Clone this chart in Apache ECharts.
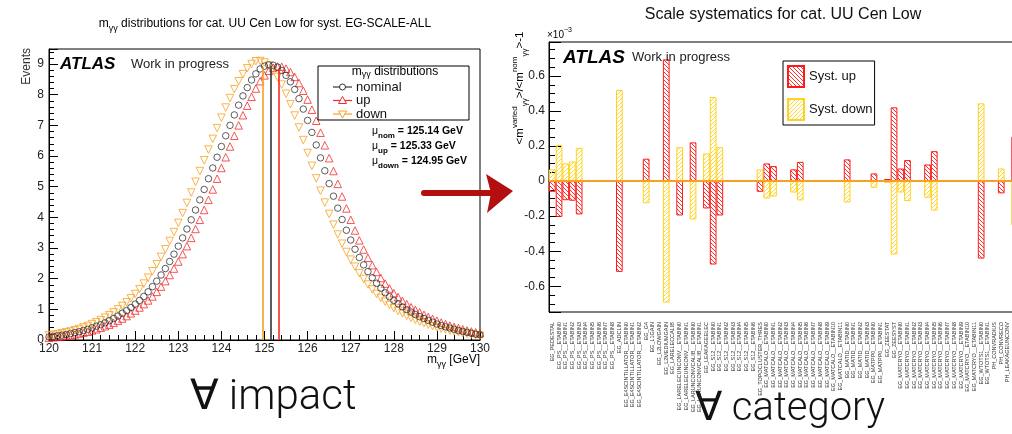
<!DOCTYPE html>
<html>
<head>
<meta charset="utf-8">
<script src="https://cdn.jsdelivr.net/npm/echarts@6/dist/echarts.min.js"></script>
<style>
  html, body { margin: 0; padding: 0; background: #fff; overflow: hidden; }
  #chart { width: 1024px; height: 434px; }
</style>
</head>
<body>
<div id="chart"></div>
<script>
// ---- left plot: m_yy spectra ----
const massBins = [
  120.0,120.1,120.2,120.3,120.4,120.5,120.6,120.7,120.8,120.9,
  121.0,121.1,121.2,121.3,121.4,121.5,121.6,121.7,121.8,121.9,
  122.0,122.1,122.2,122.3,122.4,122.5,122.6,122.7,122.8,122.9,
  123.0,123.1,123.2,123.3,123.4,123.5,123.6,123.7,123.8,123.9,
  124.0,124.1,124.2,124.3,124.4,124.5,124.6,124.7,124.8,124.9,
  125.0,125.1,125.2,125.3,125.4,125.5,125.6,125.7,125.8,125.9,
  126.0,126.1,126.2,126.3,126.4,126.5,126.6,126.7,126.8,126.9,
  127.0,127.1,127.2,127.3,127.4,127.5,127.6,127.7,127.8,127.9,
  128.0,128.1,128.2,128.3,128.4,128.5,128.6,128.7,128.8,128.9,
  129.0,129.1,129.2,129.3,129.4,129.5,129.6,129.7,129.8,129.9,
  130.0
];
const nominalEvents = [
  0.10,0.12,0.14,0.16,0.18,0.21,0.24,0.27,0.31,0.35,
  0.40,0.45,0.50,0.56,0.63,0.70,0.78,0.87,0.96,1.06,
  1.17,1.29,1.42,1.57,1.74,1.92,2.12,2.33,2.56,2.80,
  3.06,3.33,3.62,3.92,4.24,4.57,4.91,5.26,5.61,5.96,
  6.31,6.66,7.00,7.34,7.66,7.96,8.23,8.48,8.68,8.84,
  8.93,8.97,8.96,8.90,8.79,8.63,8.42,8.17,7.87,7.53,
  7.16,6.77,6.36,5.94,5.52,5.10,4.69,4.30,3.93,3.58,
  3.26,2.96,2.69,2.45,2.23,2.03,1.85,1.69,1.54,1.41,
  1.29,1.18,1.08,0.99,0.91,0.83,0.76,0.70,0.64,0.58,
  0.52,0.47,0.43,0.39,0.35,0.31,0.28,0.25,0.22,0.19,
  0.17
];
const upEvents = [
  0.07,0.09,0.10,0.12,0.14,0.16,0.18,0.21,0.24,0.27,
  0.31,0.35,0.40,0.45,0.50,0.56,0.63,0.70,0.78,0.87,
  0.96,1.06,1.17,1.29,1.42,1.57,1.74,1.92,2.12,2.33,
  2.56,2.80,3.06,3.33,3.62,3.92,4.24,4.57,4.91,5.26,
  5.61,5.96,6.31,6.66,7.00,7.33,7.64,7.93,8.20,8.44,
  8.63,8.78,8.88,8.92,8.91,8.85,8.74,8.58,8.38,8.13,
  7.84,7.51,7.15,6.76,6.35,5.93,5.51,5.09,4.68,4.29,
  3.92,3.57,3.25,2.95,2.68,2.44,2.22,2.02,1.84,1.68,
  1.53,1.40,1.28,1.17,1.07,0.98,0.90,0.82,0.75,0.69,
  0.63,0.57,0.52,0.47,0.43,0.39,0.35,0.31,0.28,0.25,
  0.22
];
const downEvents = [
  0.15,0.17,0.19,0.22,0.25,0.28,0.32,0.36,0.41,0.46,
  0.52,0.58,0.65,0.73,0.81,0.90,1.00,1.11,1.23,1.36,
  1.50,1.66,1.84,2.03,2.24,2.47,2.71,2.96,3.23,3.52,
  3.82,4.14,4.47,4.81,5.16,5.51,5.86,6.21,6.56,6.91,
  7.25,7.58,7.89,8.18,8.44,8.67,8.86,9.00,9.09,9.10,
  9.05,8.95,8.79,8.58,8.33,8.03,7.69,7.32,6.93,6.52,
  6.10,5.68,5.27,4.87,4.48,4.11,3.76,3.44,3.14,2.87,
  2.62,2.39,2.18,1.99,1.81,1.65,1.50,1.37,1.25,1.14,
  1.04,0.95,0.87,0.79,0.72,0.66,0.60,0.55,0.50,0.45,
  0.41,0.37,0.34,0.31,0.28,0.25,0.22,0.20,0.18,0.16,
  0.14
];
const variationNames = ['nominal', 'up', 'down'];
const meanTags = ['nom', 'up', 'down'];
const meanValues = [125.14, 125.33, 124.95];
const meanLineTops = [8.86, 8.84, 8.88];

// ---- right plot: relative shift of <m_yy> per systematic (x 1e-3) ----
const systNames = [
  'EG_PEDESTAL',
  'EG_PS__ETABIN0','EG_PS__ETABIN1','EG_PS__ETABIN2','EG_PS__ETABIN3','EG_PS__ETABIN4',
  'EG_PS__ETABIN5','EG_PS__ETABIN6','EG_PS__ETABIN7','EG_PS__ETABIN8',
  'EG_ADCLIN',
  'EG_E4SCINTILLATOR__ETABIN0','EG_E4SCINTILLATOR__ETABIN1','EG_E4SCINTILLATOR__ETABIN2',
  'EG_G4','EG_L1GAIN','EG_L2LOWGAIN','EG_L2MEDIUMGAIN','EG_LARELECCALIB',
  'EG_LARELECUNCONV__ETABIN0','EG_LARELECUNCONV__ETABIN1',
  'EG_LARUNCONVCALIB__ETABIN0','EG_LARUNCONVCALIB__ETABIN1',
  'EG_LEAKAGEELEC',
  'EG_S12__ETABIN0','EG_S12__ETABIN1','EG_S12__ETABIN2','EG_S12__ETABIN3',
  'EG_S12__ETABIN4','EG_S12__ETABIN5','EG_S12__ETABIN6',
  'EG_TOPOCLUSTER_THRES',
  'EG_MATCALO__ETABIN0','EG_MATCALO__ETABIN1','EG_MATCALO__ETABIN2','EG_MATCALO__ETABIN3',
  'EG_MATCALO__ETABIN4','EG_MATCALO__ETABIN5','EG_MATCALO__ETABIN6','EG_MATCALO__ETABIN7',
  'EG_MATCALO__ETABIN8','EG_MATCALO__ETABIN9','EG_MATCALO__ETABIN10','EG_MATCALO__ETABIN11',
  'EG_MATID__ETABIN0','EG_MATID__ETABIN1','EG_MATID__ETABIN2','EG_MATID__ETABIN3',
  'EG_MATPP0__ETABIN0','EG_MATPP0__ETABIN1',
  'EG_ZEESTAT','EG_ZEESYST',
  'EG_MATCRYO__ETABIN0','EG_MATCRYO__ETABIN1','EG_MATCRYO__ETABIN2','EG_MATCRYO__ETABIN3',
  'EG_MATCRYO__ETABIN4','EG_MATCRYO__ETABIN5','EG_MATCRYO__ETABIN6','EG_MATCRYO__ETABIN7',
  'EG_MATCRYO__ETABIN8','EG_MATCRYO__ETABIN9','EG_MATCRYO__ETABIN10','EG_MATCRYO__ETABIN11',
  'EG_WTOTS1__ETABIN0','EG_WTOTS1__ETABIN1',
  'PH_CONVRADIUS','PH_CONVRECO','PH_LEAKAGEUNCONV','PH_LEAKAGECONV'
];
const systUp = [
  -0.061,-0.204,-0.109,-0.112,-0.190, 0, 0, 0, 0, 0,
  -0.518, 0, 0, 0, 0.128, 0, 0, 0.695, 0, -0.196,
  0, 0.221, 0, -0.156, -0.476, -0.196, 0, 0, 0, 0,
  0, -0.061, 0.101, 0.086, 0, 0, 0.067, 0.110, 0, 0,
  0, 0, 0, 0, 0.124, 0, 0, 0, 0.044, 0,
  0.012, 0.421, 0.072, 0.120, 0, 0, 0.095, 0.171, 0, 0,
  0, 0, 0, 0, -0.442, 0, 0, -0.070, 0, 0.253
];
const systDown = [
  0.067, 0.207, 0.101, 0.112, 0.190, 0, 0, 0, 0, 0,
  0.520, 0, 0, 0, -0.126, 0, 0, -0.693, 0, 0.194,
  0, -0.219, 0, 0.158, 0.480, 0.194, 0, 0, 0, 0,
  0, 0.067, -0.099, -0.088, 0, 0, -0.065, -0.110, 0, 0,
  0, 0, 0, 0, -0.122, 0, 0, 0, -0.038, 0,
  -0.010, -0.419, -0.065, -0.114, 0, 0, -0.095, -0.168, 0, 0,
  0, 0, 0, 0, 0.444, 0, 0, 0.072, 0, -0.251
];

const FONT = '"Liberation Sans", Arial, Helvetica, sans-serif';
const RED = '#f52a2a';
const ORANGE = '#f8a020';
const BLACK = '#333';
const HIST_RED = '#ff1a1a';
const HIST_YELLOW = '#ffd21f';

// hatch fill like ROOT fill styles 3004/3005
function hatch(color, forward) {
  const s = 4;
  const c = document.createElement('canvas');
  c.width = s; c.height = s;
  const g = c.getContext('2d');
  g.strokeStyle = color;
  g.lineWidth = 0.9;
  g.beginPath();
  if (forward) { g.moveTo(-1, s + 1); g.lineTo(s + 1, -1); }
  else { g.moveTo(-1, -1); g.lineTo(s + 1, s + 1); }
  g.stroke();
  return { image: c, repeat: 'repeat' };
}

function richSet(size, color, bold, lh) {
  const w = bold ? 'bold' : 'normal';
  const line = lh || Math.round(size * 1.6);
  return {
    n: { fontFamily: FONT, fontSize: size, lineHeight: line, color: color },
    b: { fontFamily: FONT, fontSize: size, lineHeight: line, color: color, fontWeight: w },
    s: { fontFamily: FONT, fontSize: Math.round(size * 0.72), verticalAlign: 'bottom', color: color, fontWeight: w },
    p: { fontFamily: FONT, fontSize: Math.round(size * 0.72), verticalAlign: 'top', color: color, fontWeight: w }
  };
}

const markerColors = [BLACK, RED, ORANGE];
const markerSymbols = ['circle', 'triangle', 'triangle'];
const markerRotate = [0, 0, 180];
const eventSets = [nominalEvents, upEvents, downEvents];

const spectrumSeries = variationNames.map((name, k) => ({
  name: name,
  type: 'scatter',
  xAxisIndex: 0,
  yAxisIndex: 0,
  data: massBins.map((m, i) => [m, eventSets[k][i]]),
  symbol: markerSymbols[k],
  symbolRotate: markerRotate[k],
  symbolSize: k === 0 ? 6.5 : 7.5,
  itemStyle: { color: 'rgba(0,0,0,0)', borderColor: markerColors[k], borderWidth: 1 },
  z: 3 + (k === 0 ? 1 : 0),
  silent: true,
  markLine: {
    silent: true,
    symbol: ['none', 'none'],
    label: { show: false },
    lineStyle: { color: markerColors[k], width: 1.6, type: 'solid' },
    data: [[{ coord: [meanValues[k], 0] }, { coord: [meanValues[k], meanLineTops[k]] }]]
  }
}));

// legend of the left plot, drawn by hand (line + marker like ROOT)
const legendRows = [87, 100.5, 114];
const leftLegend = [
  { type: 'rect', shape: { x: 318, y: 66, width: 151, height: 54 },
    style: { fill: '#fff', stroke: '#000', lineWidth: 1 }, z: 50 },
  { type: 'text', x: 395, y: 72, z: 51,
    style: { text: '{n|m}{s|γγ}{n| distributions}', rich: richSet(12, '#111', false, 15), align: 'center', verticalAlign: 'middle' } }
];
variationNames.forEach((name, k) => {
  const y = legendRows[k];
  leftLegend.push({ type: 'line', z: 51, shape: { x1: 333, y1: y, x2: 352, y2: y },
    style: { stroke: markerColors[k], lineWidth: 1.2 } });
  if (k === 0) {
    leftLegend.push({ type: 'circle', z: 52, shape: { cx: 342.5, cy: y, r: 3 },
      style: { fill: '#fff', stroke: BLACK, lineWidth: 1 } });
  } else {
    const d = k === 1 ? 1 : -1;
    leftLegend.push({ type: 'polygon', z: 52,
      shape: { points: [[342.5, y - 4 * d], [346.5, y + 3 * d], [338.5, y + 3 * d]] },
      style: { fill: '#fff', stroke: markerColors[k], lineWidth: 1 } });
  }
  leftLegend.push({ type: 'text', x: 356, y: y, z: 51,
    style: { text: name, font: '13px ' + FONT, fill: '#111', verticalAlign: 'middle' } });
});

const meanTexts = meanTags.map((tag, k) => ({
  type: 'text', x: 372, y: 131 + 15 * k, z: 20,
  style: {
    text: '{n|μ}{s|' + tag + '}{b| = ' + meanValues[k].toFixed(2) + ' GeV}',
    rich: richSet(10.5, '#111', true), verticalAlign: 'middle'
  }
}));

const chart = echarts.init(document.getElementById('chart'));

const option = {
  animation: false,
  backgroundColor: '#fff',
  textStyle: { fontFamily: FONT },
  grid: [
    { left: 49, top: 49, width: 431, height: 291, show: true, borderColor: '#000', borderWidth: 1, backgroundColor: '#fff' },
    { left: 549, top: 42, width: 469, height: 270, show: true, borderColor: '#000', borderWidth: 1, backgroundColor: '#fff' }
  ],
  legend: {
    data: ['Syst. up', 'Syst. down'],
    orient: 'vertical',
    left: 783, top: 61,
    icon: 'rect',
    itemWidth: 16, itemHeight: 21, itemGap: 10,
    padding: [4, 2, 4, 4],
    borderColor: '#000', borderWidth: 1, backgroundColor: '#fff',
    selectedMode: false,
    textStyle: { fontSize: 13, fontFamily: FONT, color: '#111' }
  },
  xAxis: [
    {
      type: 'value', gridIndex: 0, min: 120, max: 130, interval: 1,
      axisLine: { lineStyle: { color: '#000' } },
      axisTick: { inside: true, length: 9, lineStyle: { color: '#000' } },
      minorTick: { show: true, splitNumber: 5, length: 5, lineStyle: { color: '#000' } },
      axisLabel: { fontSize: 12, color: '#222', margin: 3, fontFamily: FONT },
      splitLine: { show: false }
    },
    {
      type: 'category', gridIndex: 1, data: systNames,
      axisLine: { lineStyle: { color: '#000' } },
      axisTick: { inside: true, length: 5, interval: 0, lineStyle: { color: '#000' } },
      axisLabel: { interval: 0, rotate: 90, fontSize: 5.5, color: '#333', margin: 10, fontFamily: FONT },
      splitLine: { show: false }
    }
  ],
  yAxis: [
    {
      type: 'value', gridIndex: 0, min: 0, max: 9.49, interval: 1,
      axisLine: { show: true, lineStyle: { color: '#000' } },
      axisTick: { show: true, inside: true, length: 9, lineStyle: { color: '#000' } },
      minorTick: { show: true, splitNumber: 5, length: 5, lineStyle: { color: '#000' } },
      axisLabel: { fontSize: 12, color: '#222', margin: 5, showMaxLabel: false, fontFamily: FONT },
      splitLine: { show: false }
    },
    {
      type: 'value', gridIndex: 1, min: -0.747, max: 0.794, splitNumber: 8,
      axisLine: { show: true, lineStyle: { color: '#000' } },
      axisTick: { show: true, inside: true, length: 12, lineStyle: { color: '#000' } },
      minorTick: { show: true, splitNumber: 4, length: 6, lineStyle: { color: '#000' } },
      axisLabel: {
        fontSize: 12, color: '#222', margin: 4, showMinLabel: false, showMaxLabel: false, fontFamily: FONT,
        formatter: v => (Math.abs(v) < 1e-9 ? '0' : String(Math.round(v * 10) / 10))
      },
      splitLine: { show: false }
    }
  ],
  series: spectrumSeries.concat([
    {
      name: 'Syst. up', type: 'bar', xAxisIndex: 1, yAxisIndex: 1,
      data: systUp.map(v => (v === 0 ? '-' : v)),
      barWidth: '100%', barGap: '-100%',
      itemStyle: { color: hatch(HIST_RED, false), borderColor: HIST_RED, borderWidth: 1 },
      silent: true,
      markLine: {
        silent: true, symbol: ['none', 'none'], label: { show: false },
        lineStyle: { color: ORANGE, width: 2, type: 'solid' },
        data: [{ yAxis: 0 }]
      }
    },
    {
      name: 'Syst. down', type: 'bar', xAxisIndex: 1, yAxisIndex: 1,
      data: systDown.map(v => (v === 0 ? '-' : v)),
      barWidth: '100%', barGap: '-100%',
      itemStyle: { color: hatch(HIST_YELLOW, true), borderColor: HIST_YELLOW, borderWidth: 1 },
      silent: true
    }
  ]),
  graphic: [
    // titles
    { type: 'text', x: 265, y: 24,
      style: { text: '{n|m}{s|γγ}{n| distributions for cat. UU Cen Low for syst. EG-SCALE-ALL}',
        rich: richSet(12, '#333', false), align: 'center', verticalAlign: 'middle' } },
    { type: 'text', x: 783, y: 15,
      style: { text: 'Scale systematics for cat. UU Cen Low', font: '16px ' + FONT, fill: '#111', align: 'center', verticalAlign: 'middle' } },
    // left axis names
    { type: 'text', x: 27, y: 48, rotation: Math.PI / 2,
      style: { text: 'Events', font: '12px ' + FONT, fill: '#333', align: 'right', verticalAlign: 'middle' } },
    { type: 'text', x: 480, y: 360,
      style: { text: '{n|m}{s|γγ}{n| [GeV]}', rich: richSet(12, '#333', false), align: 'right', verticalAlign: 'middle' } },
    // ATLAS labels
    { type: 'text', x: 60, y: 64, z: 20,
      style: { text: 'ATLAS', font: 'italic bold 17px ' + FONT, fill: '#000', verticalAlign: 'middle' } },
    { type: 'text', x: 131, y: 64, z: 20,
      style: { text: 'Work in progress', font: '13px ' + FONT, fill: '#222', verticalAlign: 'middle' } },
    { type: 'text', x: 563, y: 58, z: 20,
      style: { text: 'ATLAS', font: 'italic bold 19px ' + FONT, fill: '#000', verticalAlign: 'middle' } },
    { type: 'text', x: 632, y: 57, z: 20,
      style: { text: 'Work in progress', font: '13px ' + FONT, fill: '#222', verticalAlign: 'middle' } },
    // right axis decorations
    { type: 'text', x: 547, y: 35,
      style: { text: '{n|×10}{p|−3}', rich: richSet(10, '#222', false), verticalAlign: 'middle' } },
    { type: 'text', x: 520, y: 88, rotation: Math.PI / 2,
      style: { text: '{n|<m}{p|varied}{s|γγ}{n|>/<m}{p|nom}{s|γγ}{n|>-1}', rich: richSet(11.5, '#222', false),
        align: 'center', verticalAlign: 'middle' } },
    // arrow between the two plots
    { type: 'line', shape: { x1: 424, y1: 193, x2: 492, y2: 193 },
      style: { stroke: '#b30f0f', lineWidth: 6, lineCap: 'round' } },
    { type: 'polygon', shape: { points: [[486, 174], [513, 191], [487, 213], [491, 193]] },
      style: { fill: '#b30f0f' } },
    // big captions
    { type: 'text', x: 273, y: 398,
      style: { text: '∀ impact', font: '300 42px Roboto, ' + FONT, fill: '#111', align: 'center', verticalAlign: 'middle' } },
    { type: 'text', x: 790, y: 410,
      style: { text: '∀ category', font: '300 40px Roboto, ' + FONT, fill: '#111', align: 'center', verticalAlign: 'middle' } }
  ].concat(meanTexts, leftLegend)
};

chart.setOption(option);
window.addEventListener('resize', () => chart.resize());
</script>
</body>
</html>
